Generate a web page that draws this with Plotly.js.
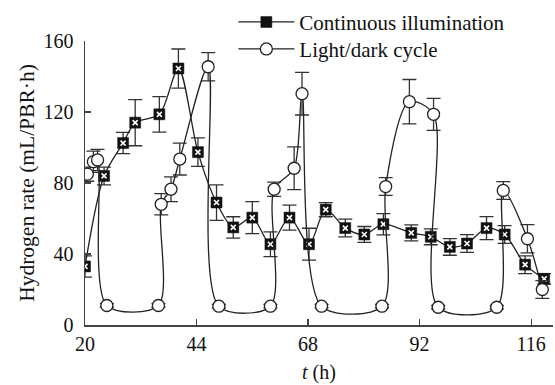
<!DOCTYPE html>
<html>
<head>
<meta charset="utf-8">
<script src="https://cdn.plot.ly/plotly-3.0.1.min.js"></script>
<style>
html,body{margin:0;padding:0;background:#fff;}
#chart{width:555px;height:385px;}
</style>
</head>
<body>
<div id="chart"></div>
<script>
// Continuous illumination
var contT = [20, 24.1, 28.2, 30.8, 36.0, 40.1, 44.3, 48.3, 51.9, 56.0, 59.9, 64.0, 68.2, 71.8, 76.0, 80.1, 84.2, 90.2, 94.4, 98.5, 102.2, 106.4, 110.3, 114.7, 118.8];
var contV = [33, 84, 102.5, 114, 118.7, 144.5, 97.4, 69, 55, 60.5, 45.5, 60.5, 45.5, 65, 54.6, 51, 56.8, 51.9, 49.7, 44, 45.9, 54.6, 51, 34, 26];
var contE = [6, 5, 6, 13, 10, 11, 8, 10, 6, 9, 7, 7, 9, 4, 5, 4.5, 6, 4.5, 4.5, 4.7, 5, 6.5, 5, 5, 3];

// Light/dark cycle
var ldT = [20.5, 21.8, 22.7, 24.7, 35.8, 36.4, 38.5, 40.4, 46.5, 48.8, 59.9, 60.7, 65.0, 66.7, 70.9, 83.9, 84.7, 89.8, 95.0, 96.0, 108.6, 110.0, 115.2, 118.4];
var ldV = [85, 92, 93, 11, 11, 68, 76.5, 93.5, 145.5, 10.6, 10.6, 76.5, 88.3, 130.3, 10.6, 10.6, 78, 125.8, 118.7, 10, 10, 75.8, 48.6, 20];
var ldE = [4, 6, 6, 1, 1, 6, 7, 9, 8, 1, 1, 4, 12, 12, 1, 1, 5, 12.5, 9, 1, 1, 5, 8, 5];

var xTicks = [20, 44, 68, 92, 116];
var yTicks = [0, 40, 80, 120, 160];

var FONT = "Liberation Serif, Times New Roman, serif";
var INK = "#222";
var SMOOTH = 0.85;

var traces = [
  {
    name: "Continuous illumination", legend: "legend",
    x: contT, y: contV, type: "scatter", mode: "lines+markers",
    line: {shape: "spline", smoothing: SMOOTH, color: INK, width: 1.3},
    marker: {symbol: "square", size: 11, color: "#111", line: {color: "#111", width: 0.5}},
    error_y: {type: "data", array: contE, visible: true, color: "#333", thickness: 1.3, width: 7}
  },
  {
    name: "cont-x", showlegend: false, hoverinfo: "skip",
    x: contT, y: contV, type: "scatter", mode: "markers",
    marker: {symbol: "x-thin-open", size: 5, color: "#fff", line: {color: "#fff", width: 1.6}}
  },
  {
    name: "Light/dark cycle", legend: "legend2",
    x: ldT, y: ldV, type: "scatter", mode: "lines+markers",
    line: {shape: "spline", smoothing: SMOOTH, color: INK, width: 1.3},
    marker: {symbol: "circle", size: 12, color: "#fff", line: {color: "#222", width: 1.3}},
    error_y: {type: "data", array: ldE, visible: true, color: "#333", thickness: 1.3, width: 7}
  }
];

var legendBase = {
  xanchor: "left", yanchor: "top", itemwidth: 56,
  bgcolor: "rgba(0,0,0,0)", borderwidth: 0,
  font: {family: FONT, size: 21, color: "#111"}
};

var layout = {
  width: 555, height: 385,
  margin: {l: 85, r: 2, t: 32, b: 60},
  paper_bgcolor: "#fff", plot_bgcolor: "#fff",
  font: {family: FONT, size: 20, color: "#111"},
  showlegend: true,
  legend: Object.assign({}, legendBase, {x: 0.317, y: 1.138}),
  legend2: Object.assign({}, legendBase, {x: 0.317, y: 1.043}),
  xaxis: {
    range: [20, 120.7], tickvals: xTicks, ticktext: xTicks.map(String),
    ticks: "inside", ticklen: 6, tickwidth: 1.3, tickcolor: "#444",
    showline: true, linecolor: "#444", linewidth: 1.5,
    showgrid: false, zeroline: false,
    tickfont: {family: FONT, size: 20, color: "#111"},
    title: {text: "<i>t</i> (h)", font: {family: FONT, size: 20, color: "#111"}, standoff: 11}
  },
  yaxis: {
    range: [0, 160], tickvals: yTicks, ticktext: yTicks.map(String),
    ticks: "inside", ticklen: 6, tickwidth: 1.3, tickcolor: "#444",
    showline: true, linecolor: "#444", linewidth: 1.5,
    showgrid: false, zeroline: false, ticklabelstandoff: 6,
    tickfont: {family: FONT, size: 20, color: "#111"},
    title: {text: "Hydrogen rate (mL/PBR·h)", font: {family: FONT, size: 21.5, color: "#111"}, standoff: 3}
  }
};

Plotly.newPlot("chart", traces, layout, {displayModeBar: false, staticPlot: true});
</script>
</body>
</html>
